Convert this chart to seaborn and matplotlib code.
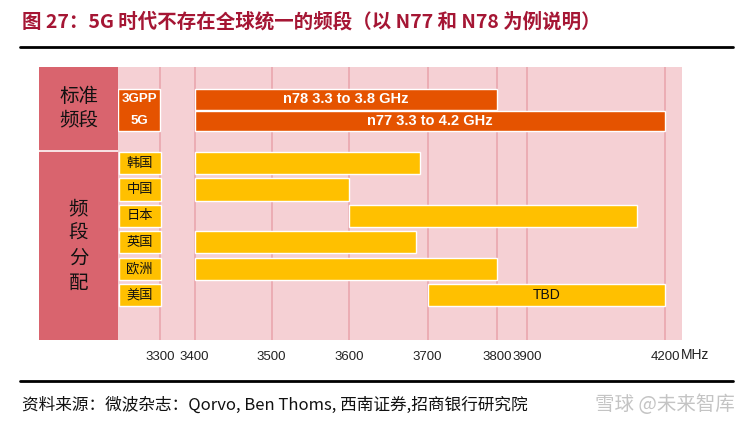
import numpy as np
import matplotlib
matplotlib.use("Agg")
import matplotlib.pyplot as plt
from matplotlib.lines import Line2D
import seaborn as sns

# values
freq_ticks = [3300, 3400, 3500, 3600, 3700, 3800, 3900, 4200]
band_names = ["3GPP", "5G"]
band_labels = ["n78 3.3 to 3.8 GHz", "n77 3.3 to 4.2 GHz"]
band_start = [3400, 3400]
band_end = [3800, 4200]
countries = ["韩国", "中国", "日本", "英国", "欧洲", "美国"]
country_start = [3400, 3400, 3600, 3400, 3400, 3700]
country_end = [3690, 3600, 4140, 3685, 3800, 4200]
country_notes = ["", "", "", "", "", "TBD"]

title = "图 27：5G 时代不存在全球统一的频段（以 N77 和 N78 为例说明）"
source = "资料来源：微波杂志：Qorvo, Ben Thoms, 西南证券,招商银行研究院"

# the source axis is a schematic, not linear: where each tick sits (px)
tick_pos = [160, 194.5, 271.5, 349, 427.5, 497, 527, 665]
band_y = np.array([-2.42, -1.59])
country_y = np.arange(len(countries))
Y_TOP, Y_BOT = -3.64, 6.70

PINK = "#F5D0D4"
GRID = "#E9A6AE"
RED = "#D9646E"
ORANGE = "#E55300"
YELLOW = "#FFC000"
TITLE_RED = "#A51634"
CJK = ["Noto Sans CJK SC", "DejaVu Sans"]


def interp_ext(v, xp, fp):
    v = np.asarray(v, dtype=float)
    out = np.interp(v, xp, fp)
    lo = (fp[1] - fp[0]) / (xp[1] - xp[0])
    hi = (fp[-1] - fp[-2]) / (xp[-1] - xp[-2])
    out = np.where(v < xp[0], fp[0] + (v - xp[0]) * lo, out)
    out = np.where(v > xp[-1], fp[-1] + (v - xp[-1]) * hi, out)
    return out


def fwd(f):
    return interp_ext(f, freq_ticks, tick_pos)


def inv(p):
    return interp_ext(p, tick_pos, freq_ticks)


sns.set_theme(style="white")
plt.rcParams["font.family"] = ["Liberation Sans", "Noto Sans CJK SC", "DejaVu Sans"]

W, H = 753, 428
fig = plt.figure(figsize=(W / 100, H / 100), dpi=100)


def px_axes(x0, y0, x1, y1):
    return fig.add_axes([x0 / W, 1 - y1 / H, (x1 - x0) / W, (y1 - y0) / H])


ax = px_axes(118, 67, 682, 340)
ax.set_facecolor(PINK)
ax.set_xscale("function", functions=(fwd, inv))
x0, x1 = float(inv(118)), float(inv(682))
ax.set_xlim(x0, x1)
ax.set_ylim(Y_BOT, Y_TOP)

for f in freq_ticks:
    ax.axvline(f, color=GRID, lw=1.2, zorder=1)

# label column cells
ax.barh(band_y.mean(), freq_ticks[0] - x0, left=x0,
        height=band_y[1] - band_y[0] + 0.78, color=ORANGE, zorder=2)
ax.barh(country_y, freq_ticks[0] - x0, left=x0 + 3, height=0.84,
        color=YELLOW, zorder=2)
xc = float(inv(139.5))
for y, name in zip(band_y, band_names):
    ax.text(xc, y, name, ha="center", va="center", color="white",
            fontsize=9.5, fontweight="bold", zorder=3)
for y, name in zip(country_y, countries):
    ax.text(xc, y, name, ha="center", va="center", color="#111111",
            fontsize=9.5, family=CJK, zorder=3)

# bands
ax.barh(band_y, np.subtract(band_end, band_start), left=band_start,
        height=0.78, color=ORANGE, zorder=2)
for y, s, e, lab in zip(band_y, band_start, band_end, band_labels):
    xm = float(inv((fwd(s) + fwd(e)) / 2))
    ax.text(xm, y, lab, ha="center", va="center", color="white",
            fontsize=10.5, fontweight="bold", zorder=3)

ax.barh(country_y, np.subtract(country_end, country_start), left=country_start,
        height=0.84, color=YELLOW, zorder=2)
for y, s, e, note in zip(country_y, country_start, country_end, country_notes):
    if note:
        xm = float(inv((fwd(s) + fwd(e)) / 2))
        ax.text(xm, y, note, ha="center", va="center", color="#111111",
                fontsize=10, zorder=3)

ax.set_xticks(freq_ticks)
ax.set_xticklabels([str(f) for f in freq_ticks])
ax.xaxis.set_minor_locator(matplotlib.ticker.NullLocator())
ax.set_yticks([])
ax.tick_params(axis="x", length=0, pad=8, labelsize=9.5, labelcolor="#222222")
sns.despine(ax=ax, left=True, bottom=True)
fig.text(681 / W, 1 - 355 / H, "MHz", ha="left", va="center", fontsize=10,
         color="#222222")

# left category boxes
side = px_axes(39, 67, 118, 340)
side.set_xlim(0, 1)
side.set_ylim(Y_BOT, Y_TOP)
side.axis("off")
side.axhspan(Y_TOP, -0.53, color=RED)
side.axhspan(-0.42, Y_BOT, color=RED)
side.text(0.5, (Y_TOP - 0.53) / 2, "标准\n频段", ha="center", va="center",
          fontsize=14, family=CJK, color="#111111", linespacing=1.15)
side.text(0.5, (Y_BOT - 0.42) / 2, "频\n段\n分\n配", ha="center", va="center",
          fontsize=14, family=CJK, color="#111111", linespacing=1.25)

# title, rules, source
fig.text(22 / W, 1 - 22 / H, title, ha="left", va="center", fontsize=14,
         fontweight="bold", color=TITLE_RED, family=CJK)
fig.add_artist(Line2D([20 / W, 733 / W], [1 - 47 / H] * 2, color="black", lw=2))
fig.add_artist(Line2D([20 / W, 733 / W], [1 - 381 / H] * 2, color="black", lw=2))
fig.text(22 / W, 1 - 405 / H, source, ha="left", va="center", fontsize=12,
         color="#111111", family=CJK)
fig.text(735 / W, 1 - 405 / H, "雪球 @未来智库", ha="right", va="center",
         fontsize=14, color="#C4C4C4", family=CJK)

fig.savefig("out.png", dpi=100)
